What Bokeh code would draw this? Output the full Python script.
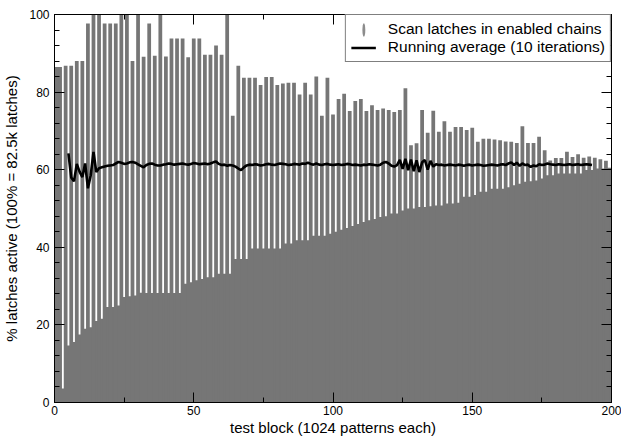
from bokeh.plotting import figure
from bokeh.models import FixedTicker, LinearAxis, Legend, LegendItem, Range1d
from bokeh.embed import file_html
from bokeh.resources import INLINE

# ---- data -------------------------------------------------------------
bar_blocks = list(range(0, 201, 2))
bar_max = [
    86.5, 86.5, 86.8, 86.8, 88.0, 88.0, 97.7, 100, 100, 97.7,
    97.7, 97.7, 100, 100, 88.0, 100, 89.1, 97.7, 89.4, 100,
    89.2, 93.8, 93.8, 93.8, 89.0, 93.8, 93.8, 89.6, 89.6, 92.0,
    89.6, 100, 73.9, 86.8, 83.7, 83.7, 83.7, 81.8, 83.9, 83.9,
    81.8, 82.2, 82.4, 82.4, 79.4, 82.4, 79.4, 84.0, 73.9, 83.7,
    74.2, 78.2, 79.6, 75.1, 77.7, 78.2, 75.1, 76.6, 75.4, 75.8,
    75.4, 74.9, 75.4, 81.0, 66.3, 66.8, 75.4, 69.5, 75.2, 69.8,
    72.5, 69.8, 71.0, 71.0, 70.2, 70.8, 67.2, 68.0, 68.0, 67.8,
    67.6, 67.3, 67.2, 66.9, 71.2, 66.9, 66.9, 68.5, 65.0, 62.4,
    63.0, 63.0, 64.6, 63.3, 64.0, 63.1, 63.4, 63.1, 62.7, 62.3,
    60.3,
]

gap_blocks = list(range(1, 200, 2))
gap_min = [
    86.5, 3.6, 14.7, 15.6, 17.5, 19.0, 19.4, 21.0, 21.6, 24.6,
    24.6, 25.0, 27.2, 27.4, 27.6, 28.3, 28.2, 28.2, 28.2, 28.2,
    28.2, 28.2, 28.2, 30.6, 31.0, 31.5, 31.8, 32.3, 32.3, 33.2,
    33.2, 33.2, 37.0, 37.0, 37.0, 39.7, 39.7, 39.7, 39.7, 39.7,
    39.7, 41.0, 41.0, 41.8, 41.8, 41.8, 43.0, 43.0, 43.0, 43.5,
    44.0, 44.5, 45.0, 45.5, 46.0, 46.5, 47.0, 47.3, 47.8, 48.0,
    48.7, 48.7, 49.5, 50.0, 50.0, 50.4, 50.4, 50.6, 50.8, 50.8,
    51.3, 51.3, 51.5, 53.0, 53.0, 53.5, 54.3, 54.3, 55.1, 55.1,
    55.1, 55.5, 56.0, 56.4, 56.9, 57.0, 57.2, 57.7, 58.6, 58.6,
    59.0, 59.0, 59.0, 59.0, 59.0, 59.9, 59.9, 60.3, 60.3, 60.5,
]

avg_blocks = list(range(5, 194))
avg_vals = [
    64.2, 58.0, 57.0, 61.5, 59.5, 58.1, 61.6, 55.2, 58.5, 64.6, 59.4, 60.4,
    60.6, 60.8, 61.0, 61.1, 61.2, 61.6, 62.0, 61.8, 61.5, 61.6, 61.9, 62.0, 61.8, 61.4,
    61.0, 60.6, 61.2, 61.5, 61.6, 61.3, 61.1, 61.1, 61.3, 61.4, 61.6, 61.5, 61.3, 61.4,
    61.5, 61.6, 61.4, 61.3, 61.5, 61.7, 61.6, 61.4, 61.5, 61.6, 61.4, 61.6, 61.9, 62.1,
    61.5, 61.2, 61.3, 61.0, 61.2, 61.1, 60.8, 60.3, 59.9, 60.6, 61.1, 61.3, 61.2, 61.4,
    61.3, 61.1, 61.2, 61.4, 61.5, 61.3, 61.2, 61.4, 61.6, 61.5, 61.4, 61.2, 61.3, 61.5,
    61.4, 61.3, 61.6, 61.5, 61.8, 61.5, 61.3, 61.6, 61.3, 61.2, 61.4, 61.5, 61.3, 61.2,
    61.3, 61.4, 61.2, 61.3, 61.5, 61.4, 61.2, 61.3, 61.2, 61.1, 61.3, 61.2, 61.4, 61.3,
    61.2, 61.1, 61.3, 61.8, 62.0, 61.6, 61.0, 60.8, 61.2, 62.5, 60.2, 62.8, 59.9, 62.6,
    59.6, 62.4, 59.4, 61.9, 62.5, 60.0, 62.3, 60.8, 61.4, 61.2, 61.3, 61.1, 61.2, 61.3,
    61.2, 61.1, 61.3, 61.2, 61.0, 61.2, 61.3, 61.1, 61.2, 61.3, 61.2, 61.0, 61.1, 61.2,
    61.3, 61.2, 61.1, 61.3, 61.4, 61.2, 61.6, 61.9, 61.2, 61.8, 61.0, 61.6, 61.2, 61.3,
    60.7, 61.1, 60.9, 61.4, 61.2, 61.3, 61.6, 61.4, 61.3, 61.2, 61.4, 61.3, 61.2, 61.3,
    61.4, 61.2, 61.3, 61.4, 61.2, 61.3, 61.4, 61.3, 61.2,
]

# off-range proxy point used only to draw the legend sample of the bars
key_x = [-50]
key_y = [-50]

x_major = [0, 50, 100, 150, 200]
x_minor = [25, 75, 125, 175]
y_major = [0, 20, 40, 60, 80, 100]
y_minor = [4, 8, 12, 16, 24, 28, 32, 36, 44, 48, 52, 56, 64, 68, 72, 76, 84, 88, 92, 96]

FONT = "Liberation Sans"
GRAY = "#767676"

# ---- figure -------------------------------------------------------------
p = figure(frame_width=557, frame_height=388,
           x_range=Range1d(0, 200), y_range=Range1d(0, 100),
           output_backend="svg", toolbar_location=None,
           min_border_left=54, min_border_right=10, min_border_top=14, min_border_bottom=36,
           background_fill_color="white", border_fill_color="white",
           outline_line_color="black", outline_line_width=1)
p.xgrid.visible = False
p.ygrid.visible = False

p.vbar(x=gap_blocks, top=gap_min, bottom=0, width=2.0, fill_color=GRAY, line_color=None)
p.vbar(x=bar_blocks, top=bar_max, bottom=0, width=1.35, fill_color=GRAY, line_color=None)

avg_r = p.line(avg_blocks, avg_vals, line_color="black", line_width=2.6)
key_r = p.ellipse(x=key_x, y=key_y, width=3, height=14, width_units="screen",
                  height_units="screen", fill_color="#8c8c8c", line_color=None)


def style(ax):
    ax.axis_line_color = "black"
    ax.major_tick_in = 10
    ax.major_tick_out = 0
    ax.minor_tick_in = 5
    ax.minor_tick_out = 0
    ax.major_tick_line_color = "black"
    ax.minor_tick_line_color = "black"
    ax.major_label_text_font = FONT
    ax.major_label_text_font_size = "12px"
    ax.major_label_text_color = "black"
    ax.axis_label_text_font = FONT
    ax.axis_label_text_font_size = "15px"
    ax.axis_label_text_font_style = "normal"
    ax.axis_label_text_color = "black"


xb = p.xaxis[0]
xb.ticker = FixedTicker(ticks=x_major, minor_ticks=x_minor)
xb.axis_label = "test block (1024 patterns each)"
xb.major_label_standoff = 3
xb.axis_label_standoff = 1
style(xb)

yl = p.yaxis[0]
yl.ticker = FixedTicker(ticks=y_major, minor_ticks=y_minor)
yl.axis_label = "% latches active (100% = 82.5k latches)"
yl.major_label_standoff = 5
yl.axis_label_standoff = 6
style(yl)

xt = LinearAxis(ticker=FixedTicker(ticks=x_major, minor_ticks=x_minor))
style(xt)
xt.major_label_text_font_size = "1px"
xt.major_label_text_color = None
xt.major_label_standoff = 0
p.add_layout(xt, "above")

yr = LinearAxis(ticker=FixedTicker(ticks=y_major, minor_ticks=y_minor))
style(yr)
yr.major_label_text_font_size = "1px"
yr.major_label_text_color = None
yr.major_label_standoff = 0
p.add_layout(yr, "right")

legend = Legend(items=[LegendItem(label="Scan latches in enabled chains", renderers=[key_r]),
                       LegendItem(label="Running average (10 iterations)", renderers=[avg_r])],
                location="top_right", margin=0, padding=5, spacing=0,
                glyph_width=25, glyph_height=17, label_height=17, label_standoff=12,
                label_text_font=FONT, label_text_font_size="15.5px", label_text_color="black",
                border_line_color="black", border_line_width=1,
                background_fill_color="white", background_fill_alpha=1)
p.add_layout(legend)

open("out.html", "w").write(file_html(p, INLINE))
